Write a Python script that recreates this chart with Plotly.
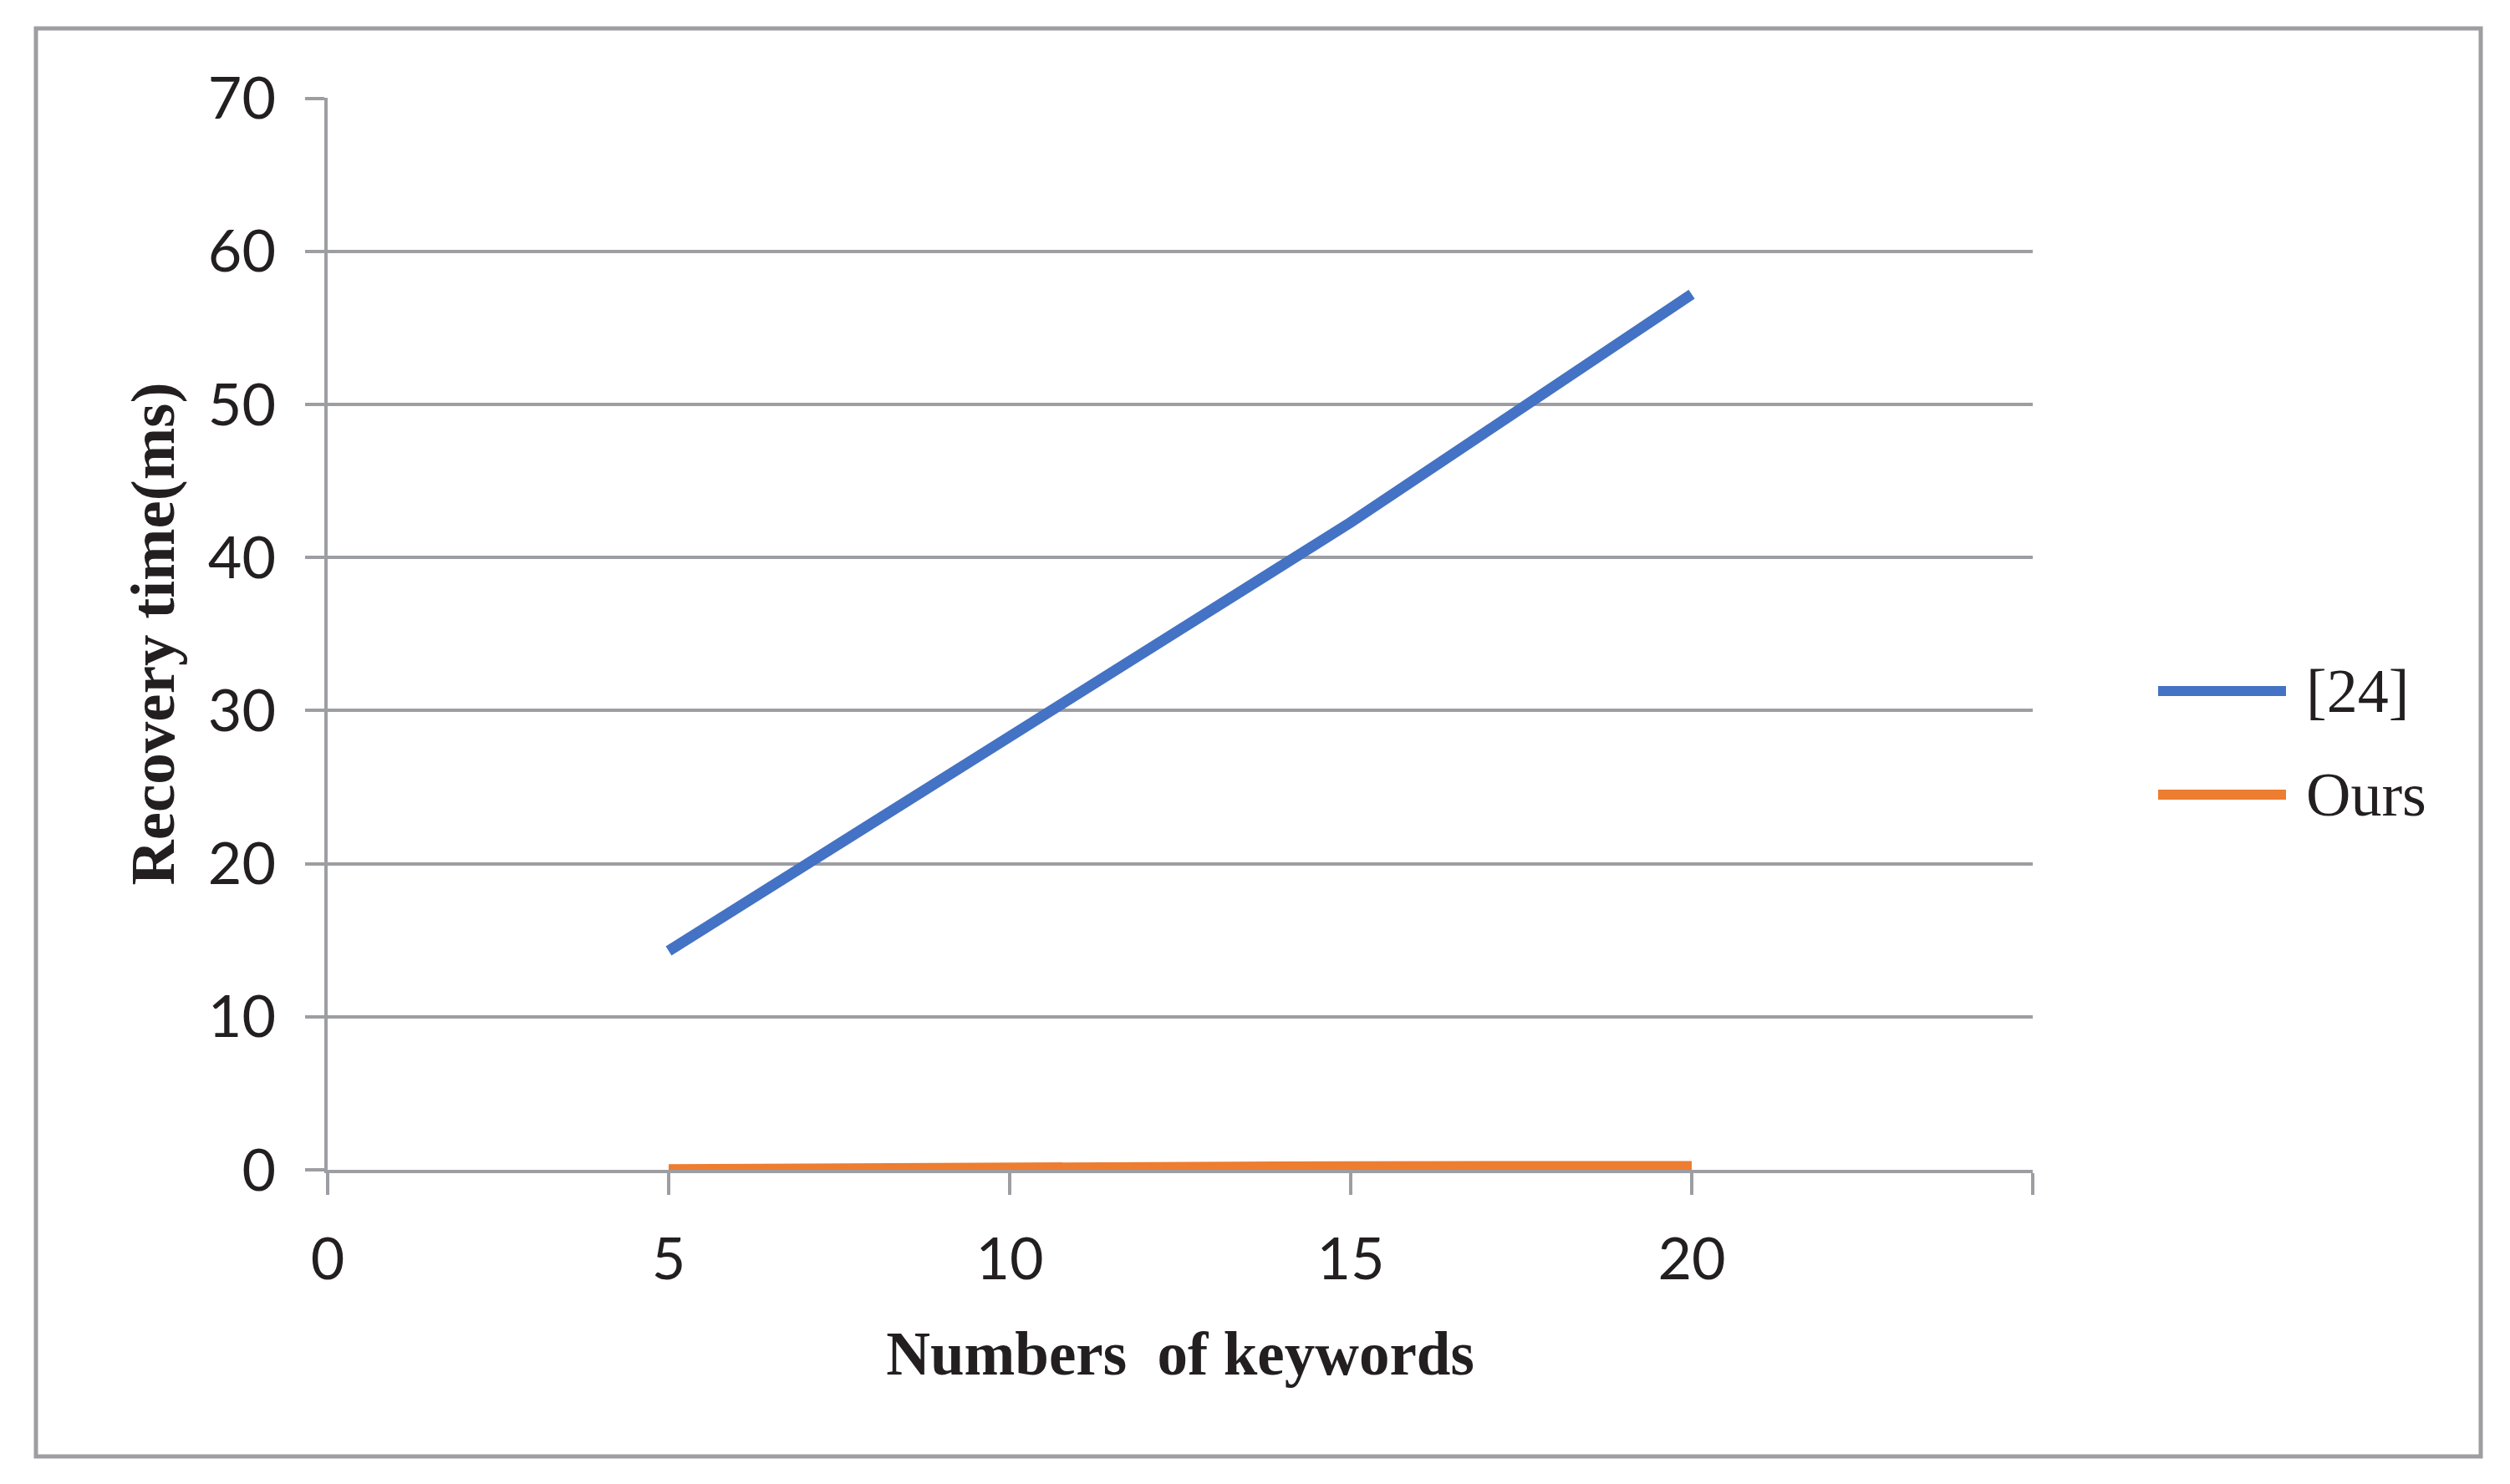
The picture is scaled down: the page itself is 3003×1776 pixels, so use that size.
import plotly.graph_objects as go

# data
keywords = [5, 10, 15, 20]
ref24_ms = [14.3, 28.3, 42.3, 57.2]
ours_ms = [0.02, 0.2, 0.21, 0.22]

series_names = ["[24]", "Ours"]
series_colors = ["#4472C4", "#ED7D31"]

x_ticks = [0, 5, 10, 15, 20, 25]
x_ticktext = ["0", "5", "10", "15", "20", ""]
y_ticks = [0, 10, 20, 30, 40, 50, 60, 70]

GRAY = "#9D9EA2"
TEXT = "#231F20"
SANS = "Lato, 'Open Sans', sans-serif"
SERIF = "'Liberation Serif', 'Times New Roman', serif"

# the page puts the figure 8px in from the top-left corner
OFF = 8
W, H = 3003 - 2 * OFF, 1776 - 2 * OFF
L, T = 392 - OFF, 117 - OFF
R = W - (2432 - OFF)
B = H - (1400 - OFF)
PW, PH = W - L - R, H - T - B


def px_to_paper(x, y):
    # x, y in screenshot pixels
    return (x - OFF - L) / PW, (H - B - (y - OFF)) / PH


fig = go.Figure()
for name, vals, color in zip(series_names, [ref24_ms, ours_ms], series_colors):
    fig.add_trace(go.Scatter(
        x=keywords, y=vals, mode="lines", name=name,
        line=dict(color=color, width=13),
        cliponaxis=False, showlegend=False,
    ))

# hand-drawn legend so the sample lines are as long as in the original
legend_rows = [827, 951]
for name, color, row in zip(series_names, series_colors, legend_rows):
    x0, y0 = px_to_paper(2582, row)
    x1, _ = px_to_paper(2735, row)
    fig.add_shape(type="line", xref="paper", yref="paper",
                  x0=x0, x1=x1, y0=y0, y1=y0,
                  line=dict(color=color, width=12))
    tx, _ = px_to_paper(2757, row)
    fig.add_annotation(xref="paper", yref="paper", x=tx, y=y0,
                       text=name, showarrow=False, xanchor="left", yanchor="middle",
                       font=dict(family=SERIF, size=74, color=TEXT))

# outer frame
bx0, by0 = px_to_paper(43, 1743)
bx1, by1 = px_to_paper(2968, 34)
fig.add_shape(type="rect", xref="paper", yref="paper",
              x0=bx0, x1=bx1, y0=by0, y1=by1,
              line=dict(color=GRAY, width=5), layer="below")

fig.update_layout(
    width=W, height=H,
    margin=dict(l=L, r=R, t=T, b=B, pad=0),
    plot_bgcolor="white", paper_bgcolor="white",
    xaxis=dict(
        range=[0, 25], tickvals=x_ticks, ticktext=x_ticktext,
        showgrid=False, zeroline=False,
        showline=True, linecolor=GRAY, linewidth=4,
        ticks="outside", ticklen=26, tickwidth=4, tickcolor=GRAY,
        ticklabelstandoff=17,
        tickfont=dict(family=SANS, size=70, color=TEXT),
        title=dict(text="<b>Numbers  of keywords</b>", standoff=50,
                   font=dict(family=SERIF, size=73, color=TEXT)),
    ),
    yaxis=dict(
        range=[0, 70.04], tickvals=y_ticks,
        showgrid=True, gridcolor=GRAY, gridwidth=4,
        zeroline=False,
        showline=True, linecolor=GRAY, linewidth=4,
        ticks="outside", ticklen=23, tickwidth=4, tickcolor=GRAY,
        ticklabelstandoff=21,
        tickfont=dict(family=SANS, size=70, color=TEXT),
        title=dict(text="<b>Recovery time(ms)</b>", standoff=17,
                   font=dict(family=SERIF, size=75, color=TEXT)),
    ),
)

fig.write_html("out.html")
